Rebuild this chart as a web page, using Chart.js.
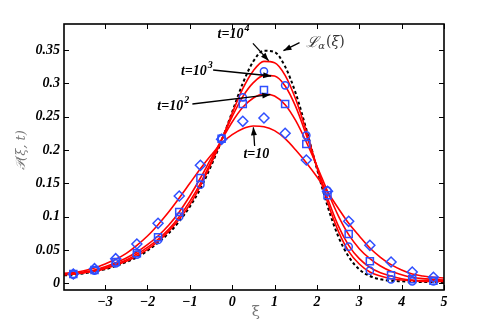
<!DOCTYPE html>
<html>
<head>
<meta charset="utf-8">
<script src="https://cdn.jsdelivr.net/npm/chart.js@4"></script>
<style>
html,body{margin:0;padding:0;background:#fff;}
#wrap{width:491px;height:327px;position:relative;}
</style>
</head>
<body>
<div id="wrap"><canvas id="c"></canvas></div>
<script>
// ---- data ----
const curveXi = [-3.97,-3.75,-3.5,-3.25,-3.0,-2.75,-2.5,-2.25,-2.0,-1.75,-1.5,-1.25,-1.0,-0.75,-0.5,-0.25,0,0.25,0.5,0.75,1.0,1.25,1.5,1.75,2.0,2.25,2.5,2.75,3.0,3.25,3.5,3.75,4.0,4.25,4.5,4.75,5.0];
const curveT10    = [0.015,0.016,0.019,0.023,0.029,0.036,0.045,0.057,0.071,0.088,0.107,0.128,0.150,0.172,0.192,0.210,0.223,0.232,0.236,0.235,0.229,0.217,0.200,0.181,0.160,0.137,0.113,0.090,0.071,0.053,0.039,0.028,0.020,0.014,0.011,0.009,0.008];
const curveT100   = [0.014,0.014,0.017,0.020,0.025,0.031,0.038,0.047,0.058,0.071,0.087,0.107,0.131,0.158,0.187,0.215,0.242,0.264,0.278,0.284,0.281,0.268,0.244,0.212,0.176,0.138,0.102,0.073,0.052,0.037,0.026,0.018,0.013,0.009,0.007,0.006,0.005];
const curveT1000  = [0.013,0.014,0.016,0.019,0.023,0.029,0.035,0.044,0.054,0.066,0.081,0.100,0.123,0.150,0.182,0.216,0.250,0.280,0.301,0.312,0.311,0.296,0.265,0.222,0.175,0.128,0.087,0.057,0.037,0.024,0.016,0.011,0.007,0.005,0.004,0.004,0.004];
const curveT10000 = [0.013,0.014,0.016,0.018,0.022,0.027,0.033,0.041,0.051,0.063,0.078,0.096,0.118,0.146,0.179,0.215,0.255,0.292,0.319,0.333,0.331,0.312,0.276,0.228,0.174,0.122,0.079,0.048,0.029,0.017,0.011,0.007,0.005,0.004,0.003,0.003,0.003];
const curveLevy   = [0.012,0.013,0.015,0.018,0.021,0.026,0.032,0.039,0.049,0.061,0.075,0.093,0.115,0.142,0.176,0.214,0.257,0.300,0.333,0.349,0.347,0.325,0.285,0.231,0.172,0.116,0.071,0.040,0.021,0.011,0.006,0.004,0.003,0.002,0.002,0.002,0.002];

const markerXi = [-3.75,-3.25,-2.75,-2.25,-1.75,-1.25,-0.75,-0.25,0.25,0.75,1.25,1.75,2.25,2.75,3.25,3.75,4.25,4.75];
const diamondsT10  = [0.014,0.022,0.037,0.059,0.090,0.131,0.177,0.216,0.243,0.248,0.225,0.185,0.138,0.093,0.057,0.032,0.017,0.009];
const squaresT100  = [0.014,0.020,0.032,0.045,0.069,0.107,0.158,0.217,0.269,0.290,0.269,0.209,0.132,0.074,0.033,0.012,0.006,0.004];
const circlesT1000 = [0.013,0.019,0.030,0.043,0.065,0.100,0.148,0.218,0.279,0.318,0.297,0.222,0.139,0.055,0.019,0.006,0.003,0.003];

const xTickValues = [-3,-2,-1,0,1,2,3,4,5];
const xTickLabels = ["\u22123","\u22122","\u22121","0","1","2","3","4","5"];
const yTickValues = [0,0.05,0.1,0.15,0.2,0.25,0.3,0.35];
const yTickLabels = ["0","0.05","0.1","0.15","0.2","0.25","0.3","0.35"];

// annotation anchors in data units
const annoLabels = ["4","3","2",""];
const annoText   = [[0.03,0.373],[-0.835,0.318],[-1.39,0.265],[0.57,0.193]];
const annoFrom   = [[0.49,0.360],[-0.45,0.320],[-0.94,0.269],[0.53,0.206]];
const annoTo     = [[0.86,0.334],[0.92,0.311],[0.90,0.283],[0.50,0.234]];
const levyText   = [1.75,0.361];
const levyFrom   = [1.59,0.361];
const levyTo     = [1.21,0.349];

const xMin = -3.97, xMax = 5, yMin = -0.01, yMax = 0.389;

// ---- build datasets ----
const pts = (xs, ys) => xs.map((v,i)=>({x:v, y:ys[i]}));
const RED = '#ff0000', BLUE = '#2f4fff';
function curve(ys, color, dash, w){
  return {data:pts(curveXi, ys), showLine:true, borderColor:color, borderWidth:w, borderDash:dash,
          pointRadius:0, cubicInterpolationMode:'monotone', fill:false, order:2};
}
function marks(ys, style, r){
  return {data:pts(markerXi, ys), showLine:false, pointStyle:style, pointRadius:r, pointHoverRadius:r,
          borderColor:BLUE, backgroundColor:'rgba(0,0,0,0)', pointBorderWidth:1.5, order:1};
}
const datasets = [
  curve(curveT10, RED, [], 1.6),
  curve(curveT100, RED, [], 1.6),
  curve(curveT1000, RED, [], 1.6),
  curve(curveT10000, RED, [], 1.6),
  curve(curveLevy, '#000', [3,2.5], 2),
  marks(diamondsT10, 'rectRot', 5),
  marks(squaresT100, 'rect', 5),
  marks(circlesT1000, 'circle', 3.6),
];

function arrow(ctx, x1, y1, x2, y2){
  ctx.beginPath(); ctx.moveTo(x1,y1); ctx.lineTo(x2,y2); ctx.stroke();
  const ang = Math.atan2(y2-y1, x2-x1), L = 8, W = 3;
  ctx.beginPath();
  ctx.moveTo(x2,y2);
  ctx.lineTo(x2 - L*Math.cos(ang) + W*Math.sin(ang), y2 - L*Math.sin(ang) - W*Math.cos(ang));
  ctx.lineTo(x2 - L*Math.cos(ang) - W*Math.sin(ang), y2 - L*Math.sin(ang) + W*Math.cos(ang));
  ctx.closePath(); ctx.fill();
}

const overlay = {
  id:'overlay',
  afterDatasetsDraw(chart){
    const {ctx, chartArea:a, scales:{x, y}} = chart;
    ctx.save();
    ctx.strokeStyle = '#000'; ctx.fillStyle = '#000'; ctx.lineWidth = 1.6;
    ctx.strokeRect(a.left, a.top, a.right-a.left, a.bottom-a.top);
    const T = 5;
    ctx.lineWidth = 1;
    ctx.beginPath();
    xTickValues.forEach(v=>{
      const px = Math.round(x.getPixelForValue(v))+0.5;
      ctx.moveTo(px, a.bottom); ctx.lineTo(px, a.bottom-T);
      ctx.moveTo(px, a.top); ctx.lineTo(px, a.top+T);
    });
    yTickValues.forEach(v=>{
      const py = Math.round(y.getPixelForValue(v))+0.5;
      ctx.moveTo(a.left, py); ctx.lineTo(a.left+T, py);
      ctx.moveTo(a.right, py); ctx.lineTo(a.right-T, py);
    });
    ctx.stroke();

    // t = 10^n annotations
    ctx.lineWidth = 1.3;
    annoLabels.forEach((e,i)=>{
      const fx = x.getPixelForValue(annoFrom[i][0]), fy = y.getPixelForValue(annoFrom[i][1]);
      const tx = x.getPixelForValue(annoTo[i][0]), ty = y.getPixelForValue(annoTo[i][1]);
      arrow(ctx, fx, fy, tx, ty);
      const cx = x.getPixelForValue(annoText[i][0]), cy = y.getPixelForValue(annoText[i][1]);
      ctx.font = 'bold italic 14px "Liberation Serif"';
      const base = 't=10';
      const wb = ctx.measureText(base).width;
      ctx.font = 'bold italic 10px "Liberation Serif"';
      const we = e ? ctx.measureText(e).width + 1 : 0;
      const x0 = cx - (wb+we)/2;
      ctx.textBaseline = 'middle'; ctx.textAlign = 'left';
      ctx.font = 'bold italic 14px "Liberation Serif"';
      ctx.fillText(base, x0, cy);
      if (e){ ctx.font = 'bold italic 10px "Liberation Serif"'; ctx.fillText(e, x0+wb+1, cy-6); }
    });
    // Levy label
    {
      const fx = x.getPixelForValue(levyFrom[0]), fy = y.getPixelForValue(levyFrom[1]);
      const tx = x.getPixelForValue(levyTo[0]), ty = y.getPixelForValue(levyTo[1]);
      arrow(ctx, fx, fy, tx, ty);
      const lx = x.getPixelForValue(levyText[0]), ly = y.getPixelForValue(levyText[1]);
      ctx.fillStyle = '#333'; ctx.textBaseline='middle'; ctx.textAlign='left';
      ctx.font = 'italic 15px "DejaVu Serif"';
      ctx.fillText('\u2112', lx, ly);
      let w = ctx.measureText('\u2112').width;
      ctx.font = 'italic 10px "DejaVu Serif"';
      ctx.fillText('\u03b1', lx+w, ly+4);
      w += ctx.measureText('\u03b1').width + 1;
      ctx.font = '14px "DejaVu Serif"';
      ctx.fillText('(', lx+w, ly);
      w += ctx.measureText('(').width;
      ctx.font = 'italic 14px "DejaVu Serif"';
      ctx.fillText('\u03be', lx+w, ly);
      w += ctx.measureText('\u03be').width;
      ctx.font = '14px "DejaVu Serif"';
      ctx.fillText(')', lx+w, ly);
    }
    // axis titles
    ctx.fillStyle = '#777'; ctx.textAlign='center'; ctx.textBaseline='middle';
    ctx.font = '15px "DejaVu Serif"';
    ctx.fillText('\u03be', (a.left+a.right)/2 + 2, 312);
    ctx.save();
    ctx.translate(22, (a.top+a.bottom)/2 - 7);
    ctx.rotate(-Math.PI/2);
    ctx.font = 'italic 13px "DejaVu Serif"';
    ctx.fillText('\ud835\udcab(\u03be, t)', 0, 0);
    ctx.restore();
    ctx.restore();
  }
};

new Chart(document.getElementById('c'), {
  type:'scatter',
  data:{datasets},
  options:{
    responsive:true, maintainAspectRatio:false, animation:false,
    layout:{padding:{left:0, right:47, top:24, bottom:0}},
    plugins:{legend:{display:false}, tooltip:{enabled:false}},
    scales:{
      x:{type:'linear', min:xMin, max:xMax,
         afterBuildTicks:s=>{ s.ticks = xTickValues.map(v=>({value:v})); },
         afterFit:s=>{ s.height = 37; },
         grid:{display:false, drawTicks:false}, border:{display:false},
         ticks:{padding:4, color:'#000', font:{family:'Liberation Serif', size:14, style:'italic', weight:'bold'},
                callback:(v)=>{ const i = xTickValues.indexOf(v); return i>=0 ? xTickLabels[i] : ''; }, maxRotation:0, autoSkip:false}},
      y:{type:'linear', min:yMin, max:yMax,
         afterBuildTicks:s=>{ s.ticks = yTickValues.map(v=>({value:v})); },
         afterFit:s=>{ s.width = 64; },
         grid:{display:false, drawTicks:false}, border:{display:false},
         ticks:{padding:4, color:'#000', font:{family:'Liberation Serif', size:14, style:'italic', weight:'bold'},
                callback:(v)=>{ const i = yTickValues.findIndex(t=>Math.abs(t-v)<1e-9); return i>=0 ? yTickLabels[i] : ''; }, autoSkip:false}}
    }
  },
  plugins:[overlay]
});
</script>
</body>
</html>
